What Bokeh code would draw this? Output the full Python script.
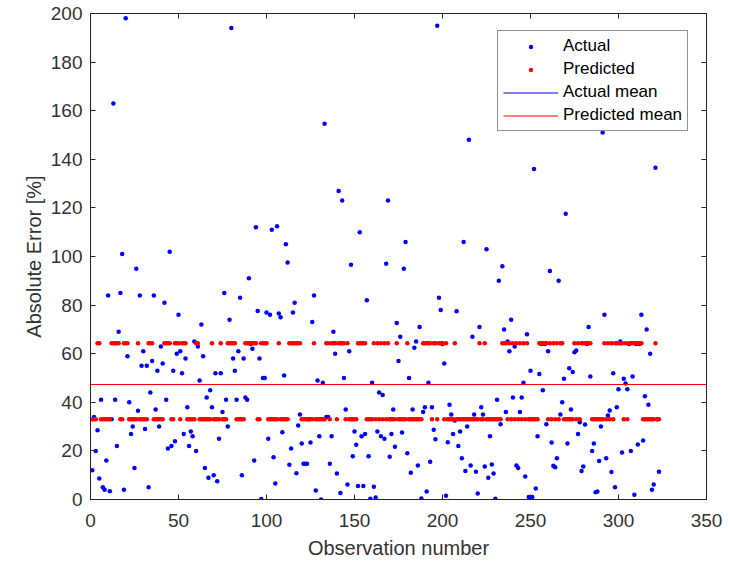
from bokeh.plotting import figure
from bokeh.models import (Range1d, FixedTicker, LinearAxis, Legend, LegendItem)
from bokeh.embed import file_html
from bokeh.resources import INLINE

# ---------------- data ----------------
actual = [
    12, 34, 20, 28.5, 8.6, 41, 5, 4, 16, 84,
    3.4, 33, 163, 41, 22, 69, 85, 101, 4, 198,
    59, 40, 27, 30, 13, 95, 36.5, 84, 55, 61,
    29, 55, 5, 44, 57, 84, 37, 53, 30, 63,
    56, 81, 41, 21, 102, 22, 53, 24, 60, 76,
    61, 52, 27, 58, 38, 22, 28, 26, 65, 20,
    63, 49, 72, 59, 13, 42, 9, 45, 38, 10,
    52, 7.5, 25, 52, 36, 85, 41, 30, 74, 194,
    58, 53, 41, 61, 83, 10, 58, 42, 41, 91,
    64, 62, 16, 112, 77.6, 58, 0.2, 50, 50, 77,
    25, 76, 111, 17.4, 6.6, 112.5, 76.5, 75, 27.7, 51,
    105, 97.5, 14.3, 21, 77, 81, 10.8, 30.5, 35, 23,
    14.7, 14.7, 14.7, 33, 23.5, 73, 84, 3.7, 49, 26,
    0, 48, 154.6, 34, 34, 14.7, 26, 69, 60, 10.7,
    127, 2.7, 123, 50, 37, 6.2, 61, 96.6, 17.8, 28,
    22.5, 5.6, 110, 26, 5.6, 27, 82, 17.8, 0.3, 48,
    5.2, 0.8, 28, 44, 26, 43, 25, 97, 123, 17.6,
    27, 37, 21.7, 72.6, 57, 67, 27.6, 95, 106, 19,
    50, 11, 37, 62.5, 65, 14, 71, 0.4, 36, 38,
    3.3, 48, 15.5, 38, 28.7, 24.8, 195, 83, 78, 64,
    56, 1.5, 23.6, 39, 35, 27, 32.5, 77.5, 22, 28,
    17, 106, 11.7, 30, 148, 14, 67, 35, 11.4, 2.5,
    71, 38, 35, 13.6, 103, 9, 26, 14.4, 10.7, 0.3,
    41, 90, 31, 96, 70, 36, 65, 61, 74, 42,
    63, 14, 13, 36, 42, 48, 9.5, 68, 1, 53,
    1, 136, 4.5, 26, 51.6, 64, 45, 64, 31, 61,
    94, 23.5, 13.9, 13.3, 17, 90, 35, 40, 49.7, 117.6,
    23, 54, 37, 52.5, 60.6, 61.3, 27, 31.8, 11.7, 13.6,
    30.9, 64, 71, 50.6, 20, 23, 3, 3.3, 15.8, 30,
    151, 76, 17, 34.6, 36.6, 11.3, 52, 5, 38, 45.4,
    65, 19.3, 49.7, 47.7, 45.4, 64, 20, 50.6, 2, 64,
    22.6, 64, 76, 24.3, 42.5, 70, 39, 60, 4, 6.2,
    136.5, 33, 11.4,
]

# predicted class of each observation: H = high level, L = low level
pred_levels = {"H": 64.3, "L": 33.0}
pred_class = (
    "LLLHHLLLLL" "LHHHHHLLHH" "HLLLLLHLLL" "LLHHHLLLLL" "LHHHHLLHHH"
    "LHHHLLLLLH" "HLLLLLLLHL" "LLLHLLLHHH" "HHLLLLLHHH" "HHHHLLHHHH"
    "LLLLLLHLLL" "LLHHHHHHHL" "LLLLLLHLLL" "LLLHHLHHHL" "HHHHLHLLLL"
    "LHHHHHLLLL" "HLHLHLHLHL" "LLLHLLLLLH" "LLLLLLLLHH" "HHHLHHLHHH"
    "LHLLLLHLLL" "LLLLLLLLLL" "HLLHLLLLLL" "LLLHHHLHLH" "LHLHLHLHLL"
    "LLLLHHHHHL" "HLHLHLHHLL" "LLLLHLHLHH" "HHHHLLLLLL" "LHLHLHLHHH"
    "HHLHLHHHHH" "HHHLLLLLLL" "HLL"
)

actual_mean = 47.4
predicted_mean = 47.4

x_ticks = [0, 50, 100, 150, 200, 250, 300, 350]
y_ticks = [0, 20, 40, 60, 80, 100, 120, 140, 160, 180, 200]

obs = list(range(1, len(actual) + 1))
predicted = [pred_levels[c] for c in pred_class]

# ---------------- figure ----------------
FONT = "Liberation Sans"
AX = "#262626"
TXT = "#333333"

p = figure(width=730, height=563, output_backend="svg", toolbar_location=None,
           x_range=Range1d(x_ticks[0], x_ticks[-1]),
           y_range=Range1d(y_ticks[0], y_ticks[-1]),
           min_border_left=90, min_border_right=24,
           min_border_top=13, min_border_bottom=64)
p.grid.visible = False
p.outline_line_color = AX
p.outline_line_width = 1
p.background_fill_color = "white"
p.border_fill_color = "white"

def style_axis(ax, ticks, show_labels=True):
    ax.ticker = FixedTicker(ticks=ticks)
    ax.major_tick_in = 5
    ax.major_tick_out = 0
    ax.minor_tick_line_color = None
    ax.axis_line_color = AX
    ax.major_tick_line_color = AX
    ax.major_label_text_font = FONT
    ax.major_label_text_color = TXT
    if show_labels:
        ax.major_label_text_font_size = "19px"
    else:
        ax.major_label_overrides = {t: "" for t in ticks}
        ax.major_label_text_font_size = "1px"
        ax.major_label_standoff = 0

style_axis(p.xaxis[0], x_ticks)
style_axis(p.yaxis[0], y_ticks)
p.xaxis[0].major_label_standoff = 14
p.yaxis[0].major_label_standoff = 8
for ax in (p.xaxis[0], p.yaxis[0]):
    ax.axis_label_text_font = FONT
    ax.axis_label_text_font_style = "normal"
    ax.axis_label_text_font_size = "20px"
    ax.axis_label_text_color = TXT
p.xaxis[0].axis_label = "Observation number"
p.yaxis[0].axis_label = "Absolute Error [%]"
p.xaxis[0].axis_label_standoff = 7
p.yaxis[0].axis_label_standoff = 3

top_ax = LinearAxis()
right_ax = LinearAxis()
style_axis(top_ax, x_ticks, show_labels=False)
style_axis(right_ax, y_ticks, show_labels=False)
p.add_layout(top_ax, "above")
p.add_layout(right_ax, "right")

r_act = p.scatter(obs, actual, size=4.5, color="#0000ff", line_width=0)
r_pred = p.scatter(obs, predicted, size=4.5, color="#ff0000", line_width=0)
r_amean = p.hspan(y=[actual_mean], line_color="#0000ff", line_width=1.2)
r_pmean = p.hspan(y=[predicted_mean], line_color="#ff0000", line_width=1.2)

legend = Legend(items=[
    LegendItem(label="Actual", renderers=[r_act]),
    LegendItem(label="Predicted", renderers=[r_pred]),
    LegendItem(label="Actual mean", renderers=[r_amean]),
    LegendItem(label="Predicted mean", renderers=[r_pmean]),
], location=(407, 368))
legend.label_text_font = FONT
legend.label_text_font_size = "17px"
legend.label_text_color = "#000000"
legend.glyph_width = 55
legend.glyph_height = 11
legend.label_height = 20
legend.label_standoff = 5
legend.spacing = 3
legend.padding = 5
legend.margin = 0
legend.border_line_color = AX
legend.border_line_width = 1
legend.background_fill_color = "white"
legend.background_fill_alpha = 1.0
p.add_layout(legend, "center")

open("out.html", "w").write(file_html(p, INLINE))
